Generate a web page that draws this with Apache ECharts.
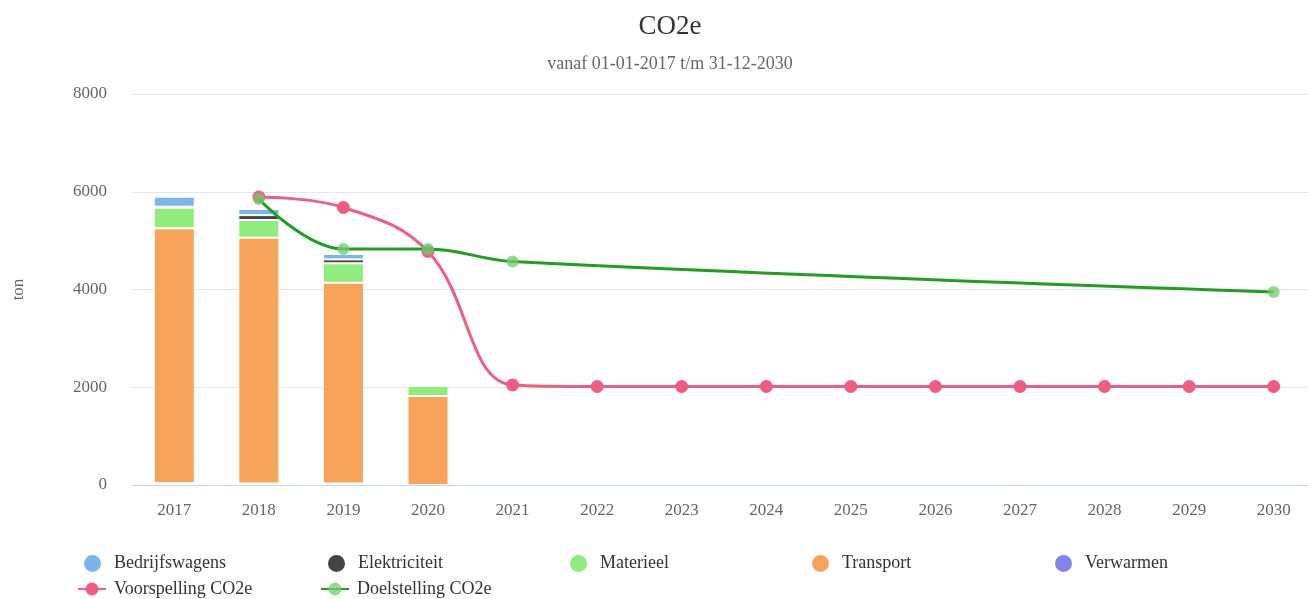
<!DOCTYPE html>
<html>
<head>
<meta charset="utf-8">
<script src="https://cdn.jsdelivr.net/npm/echarts@6/dist/echarts.min.js"></script>
<style>
html,body{margin:0;padding:0;background:#fff;overflow:hidden;}
#c{width:1340px;height:599px;}
</style>
</head>
<body>
<div id="c"></div>
<script>
const categories = ['2017','2018','2019','2020','2021','2022','2023','2024','2025','2026','2027','2028','2029','2030'];
const yTicks = [0, 2000, 4000, 6000, 8000];
const bedrijfswagens = [205, 125, 110, null, null, null, null, null, null, null, null, null, null, null];
const elektriciteit = [20, 100, 80, null, null, null, null, null, null, null, null, null, null, null];
const materieel = [422, 362, 397, 205, null, null, null, null, null, null, null, null, null, null];
const transport = [5212, 5030, 4109, 1821, null, null, null, null, null, null, null, null, null, null];
const verwarmen = [40, 30, 30, null, null, null, null, null, null, null, null, null, null, null];
const voorspelling = [null, 5893, 5678, 4777, 2046, 2015, 2015, 2015, 2015, 2015, 2015, 2015, 2015, 2015];
const doelstelling = [null, 5852, 4829, 4829, 4573, null, null, null, null, null, null, null, null, 3949];

const FONT = '"Liberation Serif", "Times New Roman", serif';
const colors = {
  'Bedrijfswagens': '#7cb5ec',
  'Elektriciteit': '#434348',
  'Materieel': '#90ed7d',
  'Transport': '#f7a35c',
  'Verwarmen': '#8085e9',
  'Voorspelling CO2e': '#f15c80',
  'Doelstelling CO2e': '#1f9e1f'
};

function barSeries(name, data) {
  return {
    name: name, type: 'bar', stack: 'total', data: data, barWidth: 41,
    itemStyle: { color: colors[name], borderColor: '#ffffff', borderWidth: 1 },
    emphasis: { disabled: true }
  };
}

const legendItems = [
  { name: 'Bedrijfswagens', left: 82, top: 553, icon: 'circle' },
  { name: 'Elektriciteit', left: 326, top: 553, icon: 'circle' },
  { name: 'Materieel', left: 568, top: 553, icon: 'circle' },
  { name: 'Transport', left: 810, top: 553, icon: 'circle' },
  { name: 'Verwarmen', left: 1053, top: 553, icon: 'circle' },
  { name: 'Voorspelling CO2e', left: 77, top: 580, icon: null },
  { name: 'Doelstelling CO2e', left: 320, top: 580, icon: null }
];

const legends = legendItems.map(it => {
  const l = {
    data: [it.icon ? { name: it.name, icon: 'circle' } : { name: it.name }],
    left: it.left, top: it.top, orient: 'horizontal', padding: 0,
    selectedMode: false,
    textStyle: { fontFamily: FONT, fontSize: 18, color: '#333333', padding: [0, 0, 0, it.icon ? 7 : 3] }
  };
  if (it.icon) { l.itemWidth = 19; l.itemHeight = 19; }
  else { l.itemWidth = 28; l.itemHeight = 16; }
  return l;
});

const chart = echarts.init(document.getElementById('c'), null, { renderer: 'canvas' });
chart.setOption({
  animation: false,
  backgroundColor: '#ffffff',
  title: [
    { text: 'CO2e', left: 'center', top: 8,
      textStyle: { fontFamily: FONT, fontSize: 27, fontWeight: 'normal', color: '#333333' } },
    { text: 'vanaf 01-01-2017 t/m 31-12-2030', left: 'center', top: 50,
      textStyle: { fontFamily: FONT, fontSize: 18, fontWeight: 'normal', color: '#666666' } }
  ],
  legend: legends,
  grid: { left: 132, top: 94, width: 1184, height: 391, containLabel: false },
  xAxis: {
    type: 'category', data: categories,
    axisLine: { lineStyle: { color: '#ccd6eb', width: 1 } },
    axisTick: { show: false },
    axisLabel: { fontFamily: FONT, fontSize: 17, color: '#666666', margin: 17 },
    splitLine: { show: false }
  },
  yAxis: {
    type: 'value', min: yTicks[0], max: yTicks[yTicks.length - 1], interval: 2000,
    name: 'ton', nameLocation: 'middle', nameGap: 105, nameRotate: 90,
    nameTextStyle: { fontFamily: FONT, fontSize: 17, color: '#666666' },
    axisLine: { show: false }, axisTick: { show: false },
    axisLabel: { fontFamily: FONT, fontSize: 17, color: '#666666', margin: 25,
      formatter: v => String(v) },
    splitLine: { lineStyle: { color: '#e6e6e6', width: 1 } }
  },
  series: [
    barSeries('Verwarmen', verwarmen),
    barSeries('Transport', transport),
    barSeries('Materieel', materieel),
    barSeries('Elektriciteit', elektriciteit),
    barSeries('Bedrijfswagens', bedrijfswagens),
    {
      name: 'Voorspelling CO2e', type: 'line', data: voorspelling,
      smooth: 0.4,
      symbol: 'circle', symbolSize: 13, showAllSymbol: true,
      lineStyle: { color: colors['Voorspelling CO2e'], width: 3 },
      itemStyle: { color: colors['Voorspelling CO2e'] },
      emphasis: { disabled: true }, z: 3
    },
    {
      name: 'Doelstelling CO2e', type: 'line', data: doelstelling,
      smooth: 0.4, connectNulls: true,
      symbol: 'circle', symbolSize: 12, showAllSymbol: true,
      lineStyle: { color: colors['Doelstelling CO2e'], width: 3 },
      itemStyle: { color: 'rgba(110,205,110,0.75)' },
      emphasis: { disabled: true }, z: 4
    }
  ]
});
</script>
</body>
</html>
